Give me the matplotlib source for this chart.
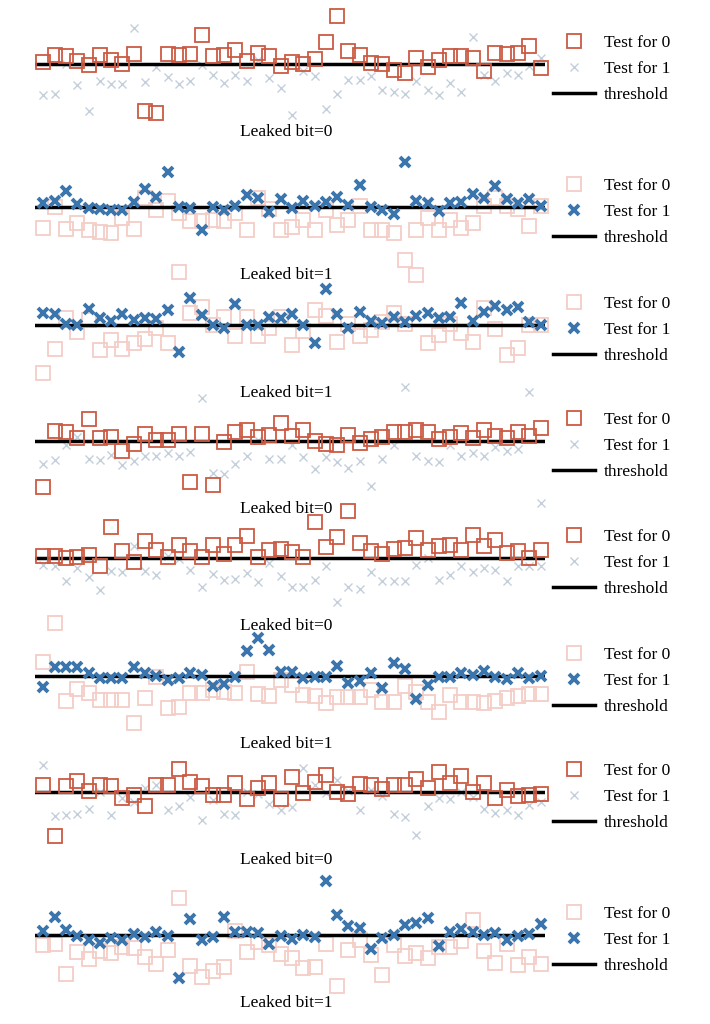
import numpy as np
import matplotlib.pyplot as plt

plt.rcParams['font.family'] = ['Liberation Serif', 'DejaVu Serif']

# leaked bit per panel
leaked_bits = [0, 1, 1, 0, 0, 1, 0, 1]

# "Test for 0" values per panel (offset from threshold)
test0 = [
    [2, 9, 8, 3, -1, 9, 4, 0, 10, -47, -49, 10, 9, 10, 29, 8, 9, 14, 3, 11, 8, -2, 2, 0, 5, 22, 48, 13, 9, 1,
     0, -6, -9, 6, -3, 4, 8, 8, 6, -7, 11, 10, 11, 18, -4],
    [-21, 0, -22, -16, -23, -25, -26, -11, -22, 9, -3, 6, -6, -14, -14, -13, -14, -6, -23, 9, -2, -23, -20, -13, -23,
     -3, -18, -13, 1, -23, -23, -26, -53, -23, -11, -23, -13, -21, -16, 1, 9, 1, -2, -19, 1],
    [-48, -24, 7, -7, 5, -25, -15, -24, -18, -14, -3, -18, 53, 12, 18, 0, 8, -11, 8, -11, -3, 8, -20, -6, 15,
     9, -17, 1, -11, -5, 3, 12, 1, 50, -18, -10, 1, -8, -17, 17, -4, -30, -23, 0, 0],
    [-46, 10, 9, 3, 22, 3, 4, -10, -3, 7, 1, 1, 7, -41, 7, -44, -1, 9, 11, 4, 6, 18, 5, 11, 0,
     -3, -4, 6, -2, 2, 4, 9, 9, 11, 9, 2, 4, 8, 3, 11, 5, 3, 9, 5, 13],
    [2, 2, 0, 1, 3, -8, 31, 7, -4, 17, 8, 1, 13, 7, 1, 13, 4, 13, 22, 1, 8, 9, 6, 1, 36,
     11, 21, 47, 15, 7, 4, 9, 10, 20, 8, 12, 13, 8, 23, 12, 18, 5, 7, 0, 8],
    [14, 53, -25, -13, -17, -24, -24, -24, -47, -22, -1, -32, -31, -17, -17, -14, -16, -17, 4, -18, -20, -4, -9, -19, -20,
     -27, -21, -21, -21, -14, -26, -26, -10, -16, -26, -36, -19, -26, -26, -27, -25, -22, -20, -18, -18],
    [7, -44, 6, 11, 1, 7, 6, -6, -3, -14, 7, 7, 23, 10, 6, -3, -3, 9, -7, 4, 9, -7, 15, -1, 10,
     17, 0, -2, 8, 7, 3, 7, 7, 13, 4, 20, 9, 16, 0, 9, -6, 2, -4, -3, -2],
    [-10, -9, -39, -17, -24, -16, -18, -12, -13, -22, -29, -15, 37, -31, -42, -36, -32, 4, -17, -7, -10, -19, -23, -33, -32,
     -9, -51, -15, -5, -20, -40, -10, -21, -18, -23, -12, -12, -6, 15, -16, -28, -9, -30, -22, -29],
]

# "Test for 1" values per panel
test1 = [
    [-31, -30, 0, -21, -47, -17, -20, -20, 36, -18, -3, -13, -20, -17, -1, -11, -19, -11, -17, 4, -14, -24, -51, -7, -12,
     -45, -30, -16, -16, -12, -26, -28, -30, -17, -26, -31, -19, -28, 27, -11, -17, -9, -11, -2, 6],
    [4, 6, 16, 3, -1, -2, -3, -3, 5, 18, 10, 35, 0, -1, -23, 0, -3, 1, 12, 9, -5, 8, -1, 6, 1,
     5, 10, 2, 22, 0, -3, -7, 45, 6, 4, -4, 4, 5, 13, 9, 21, 8, 4, 8, 1],
    [12, 11, 1, 0, 16, 7, 4, 11, 5, 7, 6, 15, -27, 27, 10, 0, -3, 21, 0, 0, 8, 7, 11, 0, -18,
     36, 11, -3, 13, 4, 2, 8, 3, 9, 12, 7, 8, 22, 4, 13, 19, 15, 18, 3, 0],
    [-23, -19, -4, 4, -18, -19, -14, -24, -20, -15, -15, -12, -15, -11, 43, -32, -33, -23, -15, 1, -18, -18, -4, -16, -28,
     -16, -21, -27, -20, -45, -18, -4, 54, -15, -20, -21, -4, -15, -12, -15, -6, -10, -8, 49, -62],
    [-7, -8, -23, -10, -19, -32, -13, -14, 12, -13, -17, 2, -1, -12, -29, -16, -22, -21, -15, -24, -5, -18, -29, -29, -22,
     -8, -44, -29, -31, -14, -23, -23, -23, -7, 0, -22, -17, -8, -14, -10, -12, -23, -8, -8, -8],
    [-11, 9, 9, 9, 3, -2, -2, -2, 9, 3, 0, -4, -2, 3, 1, -10, -8, -1, 25, 38, 26, 4, 4, -2, -1,
     -1, 10, -7, -5, 3, -12, 13, 7, -23, -9, -1, -1, 3, 1, 5, -1, -3, 3, -2, 0],
    [27, -24, -23, -22, -17, 0, -23, -6, -10, 4, 7, -18, -14, -5, -28, -8, -22, -23, 0, -2, -12, -18, -15, 24, 7,
     -1, 12, 1, -18, 2, -4, -22, -25, -43, -14, -6, -7, 0, -5, -17, -21, -18, -23, -13, -10],
    [4, 18, 5, -1, -5, -8, -3, -5, 1, -2, 3, -1, -43, 16, -5, -2, 18, 3, 3, 2, -9, -1, -4, 0, -2,
     54, 20, 9, 7, -14, -3, 0, 10, 12, 17, -11, 3, 6, 3, 0, 2, -5, -1, 1, 11],
]

# threshold line position of each panel (pixels from top)
thr_px = [64, 207, 325, 441, 558, 676, 792, 935]

RED = '#cc5a43'
PINK = '#f3cdc6'
BLUE = '#3b75ad'
GREY = '#c3cfda'

W, H = 710, 1024
fig = plt.figure(figsize=(W / 100, H / 100), dpi=100)

x0_px, dx_px = 43.3, 11.3
left_px, right_px = 35, 545
half = 60

for i, bit in enumerate(leaked_bits):
    ax = fig.add_axes([left_px / W, (H - thr_px[i] - half) / H,
                       (right_px - left_px) / W, 2 * half / H])
    x = np.arange(len(test0[i]))
    if bit == 0:
        ax.plot(x, test0[i], ls='none', marker='s', ms=10.5, mfc='none', mec=RED, mew=1.3,
                zorder=3, clip_on=False, label='Test for 0')
        ax.plot(x, test1[i], ls='none', marker='x', ms=6, mec=GREY, mew=1.0,
                zorder=1, clip_on=False, label='Test for 1')
    else:
        ax.plot(x, test0[i], ls='none', marker='s', ms=10.5, mfc='none', mec=PINK, mew=1.3,
                zorder=1, clip_on=False, label='Test for 0')
        ax.plot(x, test1[i], ls='none', marker='x', ms=6.5, mec=BLUE, mew=2.8,
                zorder=3, clip_on=False, label='Test for 1')
    ax.axhline(0, color='black', lw=2.5, zorder=2, label='threshold')

    ax.set_xlim(-(x0_px - left_px) / dx_px, (right_px - x0_px) / dx_px)
    ax.set_ylim(-half, half)
    ax.axis('off')

    ax.text((286 - x0_px) / dx_px, -68, f'Leaked bit={bit}', ha='center', va='center',
            fontsize=12.5)
    ax.legend(loc='center left', bbox_to_anchor=((553 - left_px) / (right_px - left_px), 0.46),
              frameon=False, fontsize=12.5, handlelength=2.4, handletextpad=0.55,
              labelspacing=0.55, borderpad=0, borderaxespad=0)

fig.savefig('out.png', dpi=100)
